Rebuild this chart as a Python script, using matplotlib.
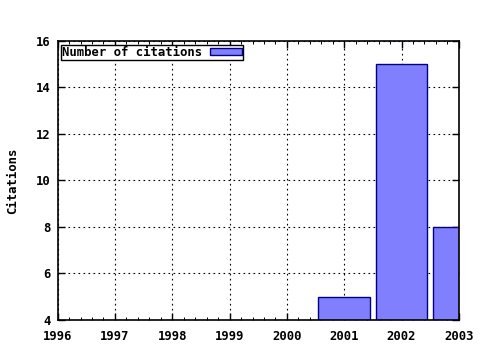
import matplotlib
matplotlib.use('Agg')
import matplotlib.pyplot as plt
from matplotlib.ticker import MultipleLocator

# dados do gráfico
anos = [2001, 2002, 2003]
citacoes = [5, 15, 8]
anos_ticks = [1996, 1997, 1998, 1999, 2000, 2001, 2002, 2003]
y_ticks = [4, 6, 8, 10, 12, 14, 16]

fonte = {'family': 'DejaVu Sans Mono', 'weight': 'bold', 'size': 8.8}

fig = plt.figure(figsize=(4.8, 3.5), dpi=100)
ax = fig.add_axes([0.12, 0.086, 0.836, 0.797])

ax.bar(anos, citacoes, width=0.9, color='#8080ff', edgecolor='#000080',
       linewidth=1, label='Number of citations', zorder=2)

ax.set_xlim(1996, 2003)
ax.set_ylim(4, 16)
ax.set_xticks(anos_ticks)
ax.set_yticks(y_ticks)
ax.xaxis.set_minor_locator(MultipleLocator(0.2))
ax.set_xticklabels([str(a) for a in anos_ticks], fontdict=fonte)
ax.set_yticklabels([str(v) for v in y_ticks], fontdict=fonte)
ax.tick_params(which='both', direction='in', top=True, right=True)
ax.tick_params(axis='x', pad=7)
ax.tick_params(axis='y', pad=5)
ax.tick_params(which='major', length=5, width=1)
ax.tick_params(which='minor', length=2.5, width=0.7)

ax.grid(True, which='major', linestyle=(0, (1.5, 3)), color='black', linewidth=0.8, zorder=1)
ax.set_axisbelow(True)
for lado in ax.spines.values():
    lado.set_linewidth(1.2)
    lado.set_zorder(3)

ax.set_ylabel('Citations', fontdict=fonte, labelpad=12)

leg = ax.legend(loc='upper left', markerfirst=False, fancybox=False,
                edgecolor='black', framealpha=1, prop=fonte,
                handlelength=2.6, handleheight=0.5, borderpad=0.1,
                borderaxespad=0.3, handletextpad=0.6)
leg.get_frame().set_linewidth(1)

fig.savefig('out.png', dpi=100)
plt.close(fig)
